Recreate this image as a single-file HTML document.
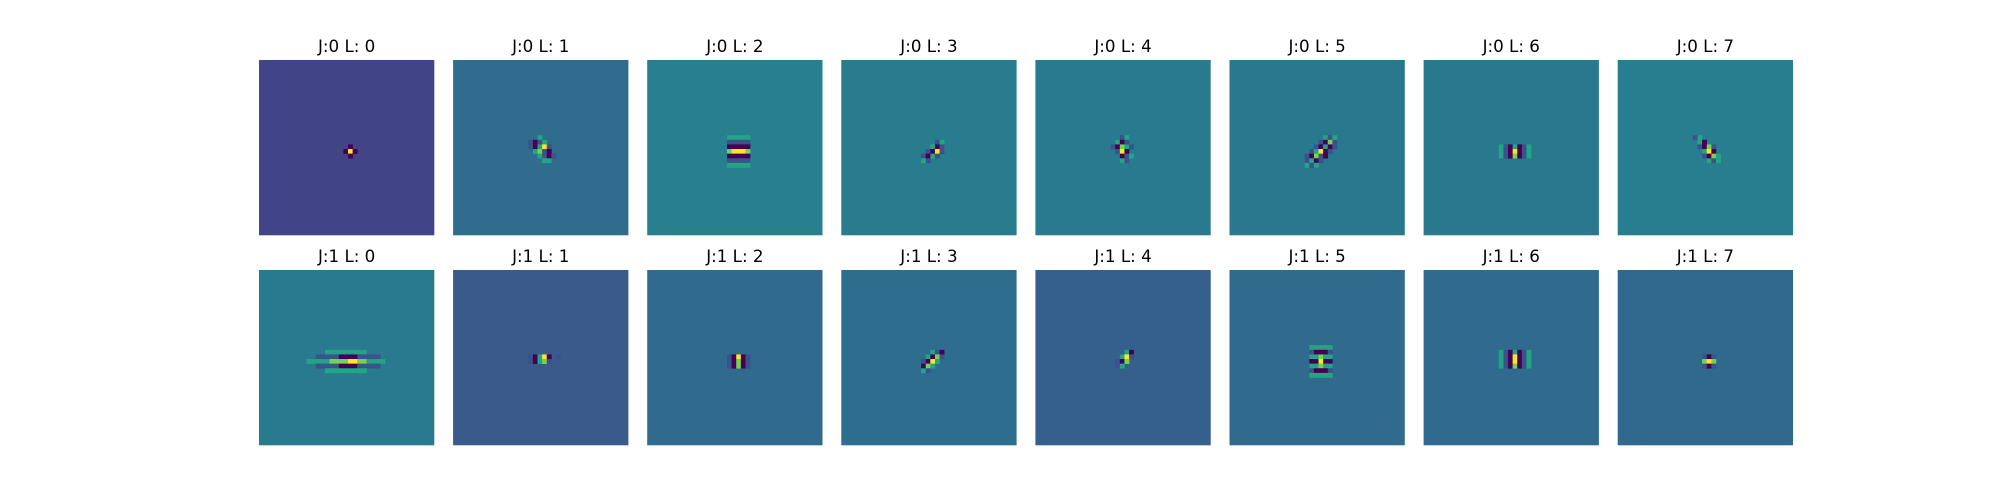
<!DOCTYPE html>
<html><head><meta charset="utf-8"><style>
body{margin:0;background:#fff;width:2000px;height:500px;overflow:hidden}
svg{display:block}
text{font-family:"DejaVu Sans","Liberation Sans",sans-serif;font-size:16.7px;fill:#000}
</style></head><body>
<svg id="fig" width="2000" height="500" viewBox="0 0 2000 500"></svg>
<script>
const rowsJ = [0, 1];
const colsL = [0, 1, 2, 3, 4, 5, 6, 7];
const backgrounds = [
  ["#414487","#2f6c8e","#28808e","#297b8e","#297a8e","#2a788e","#2a788e","#287d8e"],
  ["#297a8e","#3a5a8c","#306a8e","#2f6d8e","#355f8d","#306b8e","#306a8e","#31688e"]
];
// pattern chars: d dark, p purple, g teal-green, l light green, y yellow, . background
const patterns = [
 [
  [".d.","dyd",".d."],
  ["..g...","pdpg..","pdgyp.",".glpd.","..gpdp","...gg."],
  ["ggggg","ppppp","ddddd","lyyyl","ddddd","ppppp","ggggg"],
  ["...pg","..gdp",".pdyp","pdgp.","gp..."],
  ["..pg..",".gdp..","pdlgp.",".pyd..","..dpg.","..gp.."],
  ["....gpg","...pdlp","..pdgdp",".pgydp.","pdlpd..","pgdp...","gpg...."],
  ["gpdgdpg","gpdydpg","gpdldpg"],
  ["pg....",".gd...",".pdlp.","..gyd.","..pdlg","...gpg"]
 ],
 [
  ["....ggggggggg....","..pppppddddppppp..","gggggllllyyllgggg..","..pppppddddppppp..","....ggggggggg...."],
  ["pdgyd.p","pdglp.."],
  ["pdydp","pdldp","pdldp"],
  ["..gpd",".gdlp","pdyg.","dlg..","gp..."],
  ["..gd",".gyp","pdl.","pg.."],
  ["ggggg","pdddp","gglgg","ddydd","gglgg","pdddp","ggggg"],
  ["gpdgdpg","gpdydpg","gpdydpg","gpdldpg"],
  ["pdp","lyl","pdp"]
 ]
];
const palette = {d:"#440154", p:"#3b528b", g:"#21a585", l:"#7ad151", y:"#fde725"};

const svg = document.getElementById('fig');
const NS = "http://www.w3.org/2000/svg";
const x0 = 259, pitch = 194.1, w = 175.3, rowTop = [60, 270], N = 38;
const cell = w / N;
function panelX(l){ return x0 + l * pitch; }

rowsJ.forEach((j, r) => {
  colsL.forEach((l, c) => {
    const g = document.createElementNS(NS, 'g');
    
    
    const px = panelX(c), py = rowTop[r];
    const bg = document.createElementNS(NS, 'rect');
    
    
    bg.setAttribute('x', px); bg.setAttribute('y', py);
    bg.setAttribute('width', w); bg.setAttribute('height', w);
    bg.setAttribute('fill', backgrounds[r][c]);
    g.appendChild(bg);
    const pat = patterns[r][c];
    const rows = pat.length, colsN = Math.max(...pat.map(s => s.length));
    const ci = 19 - Math.floor(colsN / 2) + 0.3, ri = 19 - Math.floor(rows / 2) + 0.3;
    pat.forEach((s, yy) => {
      [...s].forEach((ch, xx) => {
        if (!palette[ch]) return;
        const rc = document.createElementNS(NS, 'rect');
        
        
        rc.setAttribute('x', px + (ci + xx) * cell);
        rc.setAttribute('y', py + (ri + yy) * cell);
        rc.setAttribute('width', cell + 0.3);
        rc.setAttribute('height', cell + 0.3);
        rc.setAttribute('fill', palette[ch]);
        g.appendChild(rc);
      });
    });
    const t = document.createElementNS(NS, 'text');
    
    
    t.setAttribute('x', px + w / 2);
    t.setAttribute('y', py - 8);
    t.setAttribute('text-anchor', 'middle');
    t.textContent = 'J:' + j + ' L: ' + l;
    g.appendChild(t);
    svg.appendChild(g);
  });
});
</script>
</body></html>
